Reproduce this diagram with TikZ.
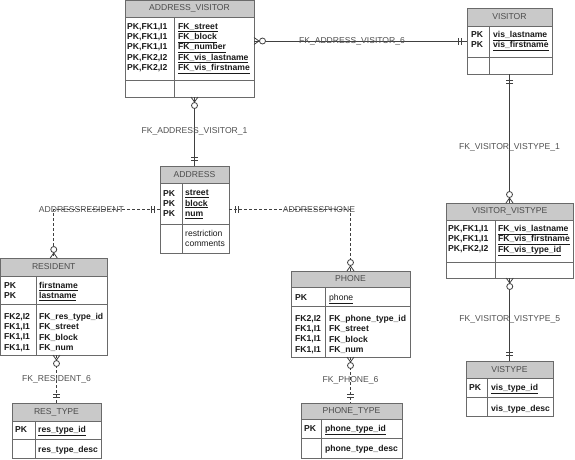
\documentclass[tikz,border=0pt]{standalone}
\usepackage{fontspec}
\setmainfont{Liberation Sans}
\definecolor{framegray}{HTML}{6A6A6A}
\definecolor{titlegray}{HTML}{C9C9C9}
\definecolor{labelgray}{HTML}{505050}
\newcommand\erfont{\fontsize{8.6}{10.3}\selectfont}
\tikzset{
  tbl/.style={draw=framegray, line width=0.8pt, anchor=north west, inner sep=0pt, outer sep=0pt},
  ttl/.style={tbl, fill=titlegray, text=black!70},
  frame/.style={draw=framegray, line width=0.8pt},
  keys/.style={anchor=north west, inner sep=0pt, align=left, font=\erfont\bfseries, text=black!90},
  attrs/.style={anchor=north west, inner sep=0pt, align=left, font=\erfont, text=black!90},
  rel/.style={draw=black!75, line width=0.8pt},
  reldash/.style={rel, dash pattern=on 3pt off 2pt},
  lbl/.style={inner sep=0pt, font=\erfont, text=labelgray},
  zmany/.pic={\draw[rel, solid] (0,-3.5) -- (5,0) -- (0,3.5);
              \draw[rel, solid, fill=white] (8.5,0) circle[radius=3pt];},
  justone/.pic={\draw[rel, solid] (6,-3.5) -- (6,3.5) (9,-3.5) -- (9,3.5);}
}
\begin{document}
\begin{tikzpicture}[x=1pt, y=-1pt, font=\erfont]
    \useasboundingbox (0,0) rectangle (575,459);
    % ADDRESS_VISITOR
    \node[tbl, minimum width=129pt, minimum height=96.5pt] (av) at (125,0.5) {};
    \node[ttl, minimum width=129pt, minimum height=16.5pt] (avt) at (125,0.5) {ADDRESS\_VISITOR};
    \draw[frame] (125,80) -- (254,80);
    \draw[frame] (174,17) -- (174,97);
    \node[keys] (avk) at (127,23) {PK,FK1,I1\\PK,FK1,I1\\PK,FK1,I1\\PK,FK2,I2\\PK,FK2,I2};
    \node[keys] (avf) at (178,23) {\underline{FK\_street}\\\underline{FK\_block}\\\underline{FK\_number}\\\underline{FK\_vis\_lastname}\\\underline{FK\_vis\_firstname}};
    % VISITOR
    \node[tbl, minimum width=85pt, minimum height=66pt] (vis) at (467,8) {};
    \node[ttl, minimum width=85pt, minimum height=18pt] (vist) at (467,8) {VISITOR};
    \draw[frame] (467,57) -- (552,57);
    \draw[frame] (489,26) -- (489,74);
    \node[keys] (visk) at (471,31) {PK\\PK};
    \node[keys] (visf) at (493,31) {\underline{vis\_lastname}\\\underline{vis\_firstname}};
    % ADDRESS
    \node[tbl, minimum width=69pt, minimum height=87pt] (addr) at (160,166) {};
    \node[ttl, minimum width=69pt, minimum height=17pt] (addrt) at (160,166) {ADDRESS};
    \draw[frame] (160,224) -- (229,224);
    \draw[frame] (182,183) -- (182,253);
    \node[keys] (addrk) at (163,190) {PK\\PK\\PK};
    \node[keys] (addrf) at (185,190) {\underline{street}\\\underline{block}\\\underline{num}};
    \node[attrs] (addro) at (185,230) {restriction\\comments};
    % RESIDENT
    \node[tbl, minimum width=106.5pt, minimum height=97pt] (res) at (0.5,258) {};
    \node[ttl, minimum width=106.5pt, minimum height=18pt] (rest) at (0.5,258) {RESIDENT};
    \draw[frame] (0.5,304) -- (107,304);
    \draw[frame] (36,276) -- (36,355);
    \node[keys] (resk) at (4,282) {PK\\PK};
    \node[keys] (resf) at (39,282) {\underline{firstname}\\\underline{lastname}};
    \node[keys] (resk2) at (4,313) {FK2,I2\\FK1,I1\\FK1,I1\\FK1,I1};
    \node[keys] (resf2) at (39,313) {FK\_res\_type\_id\\FK\_street\\FK\_block\\FK\_num};
    % RES_TYPE
    \node[tbl, minimum width=89pt, minimum height=55pt] (rt) at (12,403) {};
    \node[ttl, minimum width=89pt, minimum height=18pt] (rtt) at (12,403) {RES\_TYPE};
    \draw[frame] (12,439) -- (101,439);
    \draw[frame] (35,421) -- (35,458);
    \node[keys] (rtk) at (15,426) {PK};
    \node[keys] (rtf) at (38,426) {\underline{res\_type\_id}};
    \node[keys] (rto) at (38,446) {res\_type\_desc};
    % PHONE
    \node[tbl, minimum width=119pt, minimum height=86pt] (ph) at (291,271) {};
    \node[ttl, minimum width=119pt, minimum height=16pt] (pht) at (291,271) {PHONE};
    \draw[frame] (291,306) -- (410,306);
    \draw[frame] (325,287) -- (325,357);
    \node[keys] (phk) at (295,294) {PK};
    \node[attrs] (phf) at (329,294) {\underline{phone}};
    \node[keys] (phk2) at (295,315) {FK2,I2\\FK1,I1\\FK1,I1\\FK1,I1};
    \node[keys] (phf2) at (329,315) {FK\_phone\_type\_id\\FK\_street\\FK\_block\\FK\_num};
    % PHONE_TYPE
    \node[tbl, minimum width=101pt, minimum height=55pt] (pt) at (301,403) {};
    \node[ttl, minimum width=101pt, minimum height=16pt] (ptt) at (301,403) {PHONE\_TYPE};
    \draw[frame] (301,438) -- (402,438);
    \draw[frame] (321,419) -- (321,458);
    \node[keys] (ptk) at (304,425) {PK};
    \node[keys] (ptf) at (325,425) {\underline{phone\_type\_id}};
    \node[keys] (pto) at (325,445) {phone\_type\_desc};
    % VISITOR_VISTYPE
    \node[tbl, minimum width=127.5pt, minimum height=75pt] (vv) at (446,203) {};
    \node[ttl, minimum width=127.5pt, minimum height=17pt] (vvt) at (446,203) {VISITOR\_VISTYPE};
    \draw[frame] (446,262) -- (573.5,262);
    \draw[frame] (495,220) -- (495,278);
    \node[keys] (vvk) at (448,225) {PK,FK1,I1\\PK,FK1,I1\\PK,FK2,I2};
    \node[keys] (vvf) at (498,225) {\underline{FK\_vis\_lastname}\\\underline{FK\_vis\_firstname}\\\underline{FK\_vis\_type\_id}};
    % VISTYPE
    \node[tbl, minimum width=87pt, minimum height=55pt] (vt) at (466,361) {};
    \node[ttl, minimum width=87pt, minimum height=17pt] (vtt) at (466,361) {VISTYPE};
    \draw[frame] (466,397) -- (553,397);
    \draw[frame] (487,378) -- (487,416);
    \node[keys] (vtk) at (469,384) {PK};
    \node[keys] (vtf) at (491,384) {\underline{vis\_type\_id}};
    \node[keys] (vto) at (491,405) {vis\_type\_desc};
    % relationships
    \draw[rel] (av.east |- vis.west) -- (vis.west) node[lbl, pos=0.46] {FK\_ADDRESS\_VISITOR\_6};
    \pic at (av.east |- vis.west) {zmany};
    \pic[rotate=180] at (vis.west) {justone};
    \draw[rel] (addr.north |- av.south) -- (addr.north) node[lbl, midway] {FK\_ADDRESS\_VISITOR\_1};
    \pic[rotate=-90] at (addr.north |- av.south) {zmany};
    \pic[rotate=90] at (addr.north) {justone};
    \draw[reldash] (addr.west) -| (res.north) node[lbl, pos=0.37] {ADDRESSRESIDENT};
    \pic[rotate=180] at (addr.west) {justone};
    \pic[rotate=90] at (res.north) {zmany};
    \draw[reldash] (addr.east) -| (ph.north) node[lbl, pos=0.37] {ADDRESSPHONE};
    \pic at (addr.east) {justone};
    \pic[rotate=90] at (ph.north) {zmany};
    \draw[reldash] (rt.north |- res.south) -- (rt.north) node[lbl, midway] {FK\_RESIDENT\_6};
    \pic[rotate=-90] at (rt.north |- res.south) {zmany};
    \pic[rotate=90] at (rt.north) {justone};
    \draw[reldash] (ph.south) -- (ph.south |- pt.north) node[lbl, midway] {FK\_PHONE\_6};
    \pic[rotate=-90] at (ph.south) {zmany};
    \pic[rotate=90] at (ph.south |- pt.north) {justone};
    \draw[rel] (vis.south) -- (vis.south |- vv.north) node[lbl, pos=0.57] {FK\_VISITOR\_VISTYPE\_1};
    \pic[rotate=-90] at (vis.south) {justone};
    \pic[rotate=90] at (vis.south |- vv.north) {zmany};
    \draw[rel] (vv.south) -- (vv.south |- vt.north) node[lbl, midway] {FK\_VISITOR\_VISTYPE\_5};
    \pic[rotate=-90] at (vv.south) {zmany};
    \pic[rotate=90] at (vv.south |- vt.north) {justone};
\end{tikzpicture}
\end{document}
